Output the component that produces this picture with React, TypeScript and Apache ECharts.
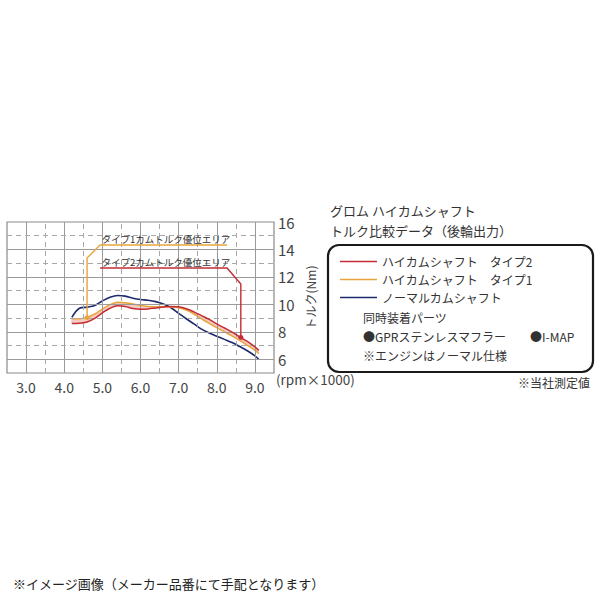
import React, { useEffect, useRef } from "react";
import * as echarts from "echarts";

// ---- data ----
const rpm = [4.2, 4.4, 4.6, 4.8, 5.0, 5.2, 5.4, 5.6, 5.8, 6.0, 6.2, 6.4, 6.6, 6.8, 7.0, 7.2, 7.4, 7.6, 7.8, 8.0, 8.2, 8.4, 8.6, 8.8, 9.0, 9.1];
const normalCam = [9.05, 9.72, 9.8, 9.92, 10.25, 10.52, 10.65, 10.6, 10.45, 10.35, 10.3, 10.2, 10.02, 9.75, 9.35, 8.95, 8.58, 8.2, 7.92, 7.68, 7.45, 7.22, 6.93, 6.62, 6.25, 6.0];
const type1Cam = [8.95, 8.95, 9.05, 9.3, 9.65, 9.98, 10.15, 10.12, 10.02, 9.92, 9.85, 9.82, 9.82, 9.8, 9.75, 9.58, 9.3, 8.95, 8.62, 8.3, 8.0, 7.7, 7.38, 7.02, 6.65, 6.42];
const type2Cam = [8.6, 8.62, 8.72, 8.98, 9.38, 9.72, 9.9, 9.85, 9.7, 9.65, 9.67, 9.74, 9.8, 9.85, 9.82, 9.68, 9.45, 9.18, 8.9, 8.58, 8.28, 7.98, 7.62, 7.3, 6.9, 6.65];

const seriesNames = ["ハイカムシャフト　タイプ2", "ハイカムシャフト　タイプ1", "ノーマルカムシャフト"];
const xSolid = [3, 4, 5, 6, 7, 8, 9];
const xDashed = [3.5, 4.5, 5.5, 6.5, 7.5, 8.5];
const ySolid = [6, 8, 10, 12, 14];
const yDashed = [7, 9, 11, 13, 15];

// annotation leaders (data coordinates)
const type1Leader = [[8.27, 14.32], [4.94, 14.32], [4.6, 13.38], [4.6, 9.03]];
const type2Leader = [[4.94, 12.65], [8.27, 12.65], [8.63, 11.48], [8.63, 7.6]];
const type1Note = "タイプ1カムトルク優位エリア";
const type2Note = "タイプ2カムトルク優位エリア";

const RED = "#c42c35";
const ORANGE = "#e8a53c";
const BLUE = "#1d2a6c";
const FONT = "'Noto Sans CJK JP', 'Noto Sans', sans-serif";

export default function App() {
  const ref = useRef<HTMLDivElement>(null);
  useEffect(() => {
    if (!ref.current) return;
    const chart = echarts.init(ref.current, null, { renderer: "svg" });
    const pts = (arr: number[]) => rpm.map((x, i) => [x, arr[i]]);
    const gridMarks = [
      ...xSolid.map((v) => ({ xAxis: v, lineStyle: { type: "solid", color: "#9a9a9a", width: 1 } })),
      ...xDashed.map((v) => ({ xAxis: v, lineStyle: { type: [5, 4], color: "#a8a8a8", width: 1 } })),
      ...ySolid.map((v) => ({ yAxis: v, lineStyle: { type: "solid", color: "#9a9a9a", width: 1 } })),
      ...yDashed.map((v) => ({ yAxis: v, lineStyle: { type: [5, 4], color: "#a8a8a8", width: 1 } })),
    ];
    const option: any = {
      animation: false,
      textStyle: { fontFamily: FONT },
      grid: {
        left: 7, right: 326, top: 222, bottom: 227,
        show: true, borderColor: "#8a8a8a", borderWidth: 1.2, backgroundColor: "#fff",
      },
      xAxis: {
        type: "value", min: 2.5, max: 9.5, interval: 0.5,
        axisLine: { show: false }, axisTick: { show: false }, splitLine: { show: false },
        axisLabel: {
          margin: 7, fontSize: 14, color: "#444", fontFamily: FONT,
          formatter: (v: number) => (Number.isInteger(v) && v >= 3 && v <= 9 ? v.toFixed(1) : ""),
        },
      },
      yAxis: {
        type: "value", position: "right", min: 5, max: 16, interval: 1,
        axisLine: { show: false }, axisTick: { show: false }, splitLine: { show: false },
        axisLabel: {
          margin: 4, fontSize: 15, color: "#444", fontFamily: FONT,
          formatter: (v: number) => (v >= 6 && v % 2 === 0 ? String(v) : ""),
        },
        name: "トルク(Nm)", nameLocation: "middle", nameRotate: 90, nameGap: 30,
        nameTextStyle: { fontSize: 12, color: "#444", fontFamily: FONT },
      },
      legend: {
        data: seriesNames, orient: "vertical", left: 335, top: 250, itemGap: 5,
        icon: "rect", itemWidth: 37, itemHeight: 1.5,
        textStyle: { fontSize: 12, color: "#333", fontFamily: FONT, lineHeight: 13, padding: [0, 0, 0, 0] },
        itemStyle: { borderWidth: 0 },
        selectedMode: false,
      },
      series: [
        {
          name: "grid", type: "line", data: [], silent: true, z: 1,
          markLine: { silent: true, symbol: ["none", "none"], label: { show: false }, data: gridMarks, animation: false },
        },
        {
          name: "band", type: "custom", z: 2, silent: true, data: [[rpm[0], type1Cam[0]]],
          renderItem: (_p: any, api: any) => {
            const upper = rpm.map((x, i) => api.coord([x, type1Cam[i]]));
            const lower = rpm.map((x, i) => api.coord([x, type2Cam[i]])).reverse();
            return { type: "polygon", shape: { points: upper.concat(lower), smooth: 0.3 }, style: { fill: "#f6cbc2" } };
          },
        },
        { name: seriesNames[2], type: "line", z: 3, data: pts(normalCam), smooth: 0.35, symbol: "none", lineStyle: { color: BLUE, width: 1.6 }, itemStyle: { color: BLUE } },
        { name: seriesNames[1], type: "line", z: 4, data: pts(type1Cam), smooth: 0.35, symbol: "none", lineStyle: { color: ORANGE, width: 1.5 }, itemStyle: { color: ORANGE } },
        { name: seriesNames[0], type: "line", z: 5, data: pts(type2Cam), smooth: 0.35, symbol: "none", lineStyle: { color: RED, width: 1.5 }, itemStyle: { color: RED } },
        {
          name: "notes", type: "custom", z: 6, silent: true, data: [[rpm[0], type1Cam[0]]],
          renderItem: (_p: any, api: any) => {
            const a = type1Leader.map((p) => api.coord(p));
            const b = type2Leader.map((p) => api.coord(p));
            const aEnd = a[a.length - 1];
            const bEnd = b[b.length - 1];
            return {
              type: "group",
              children: [
                { type: "polyline", shape: { points: a }, style: { stroke: ORANGE, lineWidth: 1.4, fill: "none" } },
                { type: "polyline", shape: { points: b }, style: { stroke: RED, lineWidth: 1.4, fill: "none" } },
                { type: "circle", shape: { cx: aEnd[0], cy: aEnd[1], r: 2.5 }, style: { fill: ORANGE } },
                { type: "circle", shape: { cx: bEnd[0], cy: bEnd[1], r: 2.5 }, style: { fill: RED } },
                { type: "text", style: { text: type1Note, x: a[1][0] + 1.5, y: a[1][1] - 1.5, fill: "#333", fontSize: 9.5, fontFamily: FONT, verticalAlign: "bottom", align: "left" } },
                { type: "text", style: { text: type2Note, x: b[0][0] + 1.5, y: b[0][1] - 1.5, fill: "#333", fontSize: 9.5, fontFamily: FONT, verticalAlign: "bottom", align: "left" } },
              ],
            };
          },
        },
      ],
      graphic: [
        { type: "text", left: 276, top: 372, style: { text: "(rpm×1000)", fontSize: 13.5, fill: "#444", fontFamily: FONT } },
        { type: "text", left: 330, top: 204, style: { text: "グロム ハイカムシャフト", fontSize: 13, fill: "#333", fontFamily: FONT } },
        { type: "text", left: 330, top: 224, style: { text: "トルク比較データ（後輪出力）", fontSize: 13, fill: "#333", fontFamily: FONT } },
        { type: "rect", shape: { x: 328, y: 245, width: 265, height: 127, r: 11 }, style: { fill: "none", stroke: "#1a1a1a", lineWidth: 2.2 } },
        { type: "text", left: 363, top: 311, style: { text: "同時装着パーツ", fontSize: 12, fill: "#333", fontFamily: FONT } },
        { type: "text", left: 363, top: 330, style: { text: "●GPRステンレスマフラー", fontSize: 12, fill: "#333", fontFamily: FONT } },
        { type: "text", left: 530, top: 330, style: { text: "●I-MAP", fontSize: 12, fill: "#333", fontFamily: FONT } },
        { type: "text", left: 363, top: 349, style: { text: "※エンジンはノーマル仕様", fontSize: 12, fill: "#333", fontFamily: FONT } },
        { type: "text", left: 518, top: 376, style: { text: "※当社測定値", fontSize: 12, fill: "#333", fontFamily: FONT } },
        { type: "text", left: 13, top: 577, style: { text: "※イメージ画像（メーカー品番にて手配となります）", fontSize: 13, fill: "#222", fontFamily: FONT } },
      ],
    };
    chart.setOption(option);
    return () => chart.dispose();
  }, []);
  return <div ref={ref} style={{ position: "fixed", left: 0, top: 0, width: 600, height: 600, background: "#fff" }} />;
}
